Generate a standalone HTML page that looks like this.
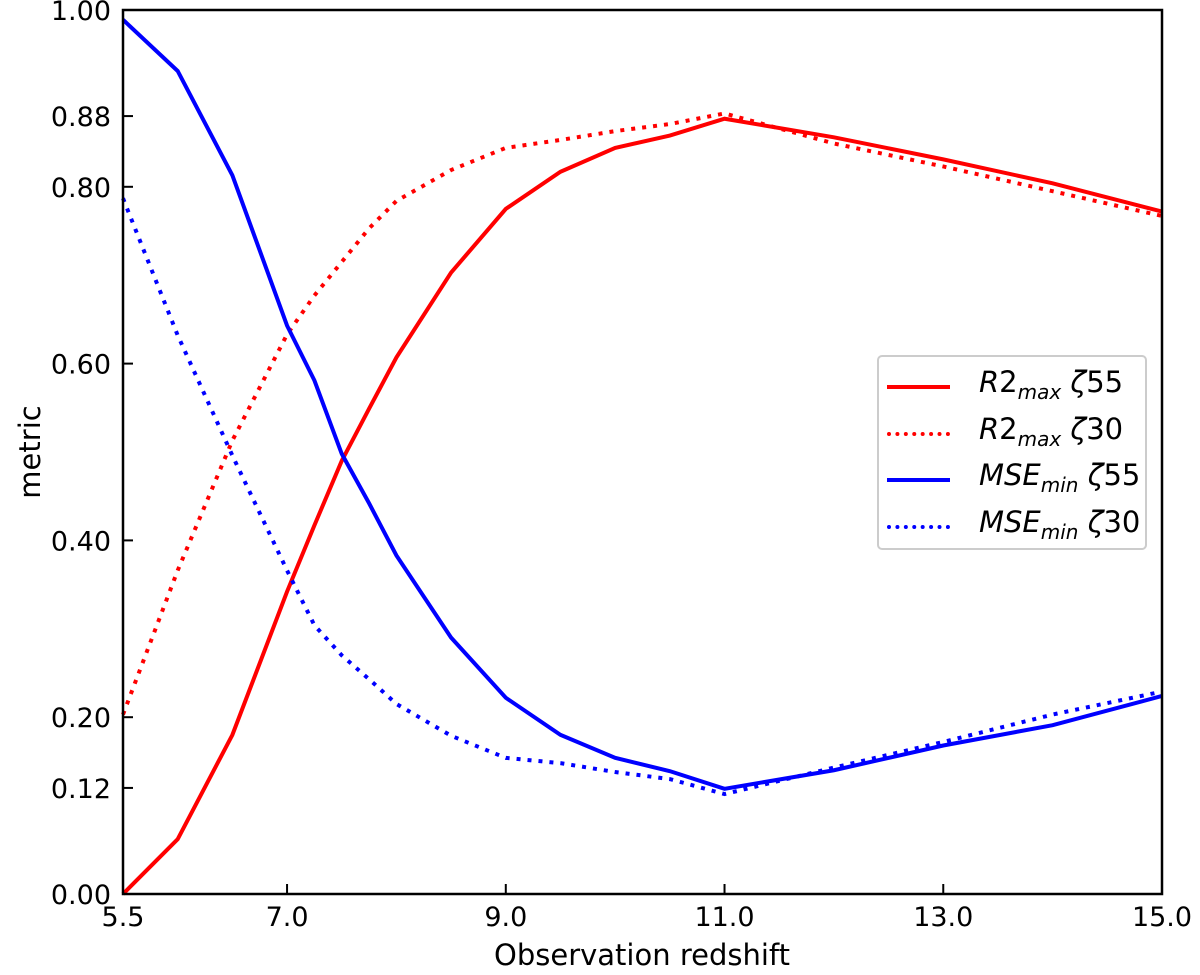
<!DOCTYPE html>
<html><head><meta charset="utf-8"><style>
body{margin:0;background:#fff;}
svg{display:block;font-family:"DejaVu Sans","Liberation Sans",sans-serif;}
.lt{position:absolute;left:92px;top:-4px;white-space:nowrap;font-size:29px}
.lt i{font-style:italic}
.lt sub{font-size:20px;font-style:italic}
</style></head><body>
<svg id="chart" width="1200" height="975"></svg>
<script>
const xs=[5.5,6.0,6.5,7.0,7.25,7.5,7.75,8.0,8.5,9.0,9.5,10,10.5,11,12,13,14,15];
const r2z55=[0,0.062,0.180,0.342,0.417,0.49,0.549,0.607,0.703,0.775,0.817,0.844,0.858,0.877,0.856,0.831,0.804,0.772];
const r2z30=[0.203,0.366,0.513,0.633,0.677,0.715,0.753,0.784,0.819,0.844,0.853,0.863,0.871,0.883,0.849,0.823,0.795,0.767];
const msez55=[0.989,0.931,0.813,0.643,0.581,0.498,0.442,0.383,0.290,0.222,0.180,0.154,0.139,0.119,0.140,0.168,0.191,0.224];
const msez30=[0.787,0.632,0.496,0.366,0.304,0.27,0.243,0.215,0.179,0.154,0.148,0.138,0.130,0.113,0.143,0.172,0.203,0.229];
const xTicks=[5.5,7.0,9.0,11.0,13.0,15.0];
const yTicks=[0,0.12,0.2,0.4,0.6,0.8,0.88,1.0];
const L=123,R=1162,T=10,B=894;
const X=v=>L+(v-5.5)/(15-5.5)*(R-L);
const Y=v=>B-v*(B-T);
const svg=document.getElementById('chart');
const NS='http://www.w3.org/2000/svg';
function mk(t,a,txt){const e=document.createElementNS(NS,t);for(const k in a)e.setAttribute(k,a[k]);if(txt!==undefined)e.textContent=txt;svg.appendChild(e);return e;}
function series(vals,color,dash,name){
  const e=mk('polyline',{points:xs.map((x,i)=>X(x)+','+Y(vals[i])).join(' '),fill:'none',stroke:color,'stroke-width':4,'stroke-dasharray':dash||'none'});
  
  
}
series(r2z55,'#ff0000',null,'r2max-zeta55-line');
series(r2z30,'#ff0000','4 7','r2max-zeta30-line');
series(msez55,'#0000ff',null,'msemin-zeta55-line');
series(msez30,'#0000ff','4 7','msemin-zeta30-line');
const fr=mk('rect',{x:L,y:T,width:R-L,height:B-T,fill:'none',stroke:'#000','stroke-width':2.5});


xTicks.forEach(v=>{
  mk('line',{x1:X(v),x2:X(v),y1:B,y2:B-10,stroke:'#000','stroke-width':2});
  const t=mk('text',{x:X(v),y:B+32,'font-size':27,'text-anchor':'middle'},v.toFixed(1));
  
  
});
yTicks.forEach(v=>{
  mk('line',{x1:L,x2:L+10,y1:Y(v),y2:Y(v),stroke:'#000','stroke-width':2});
  const t=mk('text',{x:L-12,y:Y(v)+10,'font-size':27,'text-anchor':'end'},v.toFixed(2));
  
  
});
const xt=mk('text',{x:642,y:965,'font-size':29,'text-anchor':'middle'},'Observation redshift');


const yt=mk('text',{x:40,y:452,'font-size':29,'text-anchor':'middle',transform:'rotate(-90 40 452)'},'metric');


</script>
<div style="position:absolute;left:877px;top:355px;width:270px;height:195px;border:2px solid #ccc;border-radius:5px;background:#fff;box-sizing:border-box;font-family:'DejaVu Sans','Liberation Sans',sans-serif;">
 <div style="position:absolute;left:8px;top:12px;height:40px;"><span style="position:absolute;top:16px;width:63px;border-top:4px solid #f00"></span><span class="lt"><i>R</i>2<sub>max</sub> <i>ζ</i>55</span></div>
 <div style="position:absolute;left:8px;top:59px;height:40px;"><span style="position:absolute;top:16px;width:63px;border-top:4px dotted #f00"></span><span class="lt"><i>R</i>2<sub>max</sub> <i>ζ</i>30</span></div>
 <div style="position:absolute;left:8px;top:105px;height:40px;"><span style="position:absolute;top:16px;width:63px;border-top:4px solid #00f"></span><span class="lt"><i>MSE</i><sub>min</sub> <i>ζ</i>55</span></div>
 <div style="position:absolute;left:8px;top:152px;height:40px;"><span style="position:absolute;top:16px;width:63px;border-top:4px dotted #00f"></span><span class="lt"><i>MSE</i><sub>min</sub> <i>ζ</i>30</span></div>
</div>
</body></html>
